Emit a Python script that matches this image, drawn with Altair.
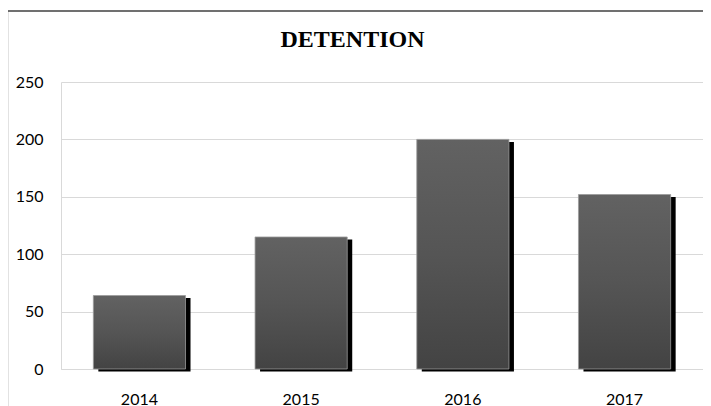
import altair as alt
import pandas as pd

TITLE = "DETENTION"
YEARS = ["2014", "2015", "2016", "2017"]
VALUES = [64, 115, 200, 152]
Y_TICKS = [0, 50, 100, 150, 200, 250]

df = pd.DataFrame({"year": YEARS, "value": VALUES})
one = pd.DataFrame({"t": [TITLE]})

W, H = 642, 287

x_enc = alt.X(
    "year:N",
    sort=YEARS,
    scale=alt.Scale(paddingInner=0.43, paddingOuter=0.2),
    axis=alt.Axis(
        title=None, labelAngle=0, ticks=False, domainColor="#d9d9d9",
        labelPadding=22, labelFont="Lato", labelFontSize=16,
        labelColor="black",
    ),
)
y_enc = alt.Y(
    "value:Q",
    scale=alt.Scale(domain=[0, 250], nice=False),
    axis=alt.Axis(
        title=None, values=Y_TICKS, grid=True, gridColor="#d9d9d9",
        domainColor="#d9d9d9", ticks=False, labelPadding=18,
        labelFont="Lato", labelFontSize=16, labelColor="black",
    ),
)

shadow = alt.Chart(df).mark_bar(
    color="black", xOffset=5, x2Offset=5, yOffset=2.5, y2Offset=2.5
).encode(x=x_enc, y=y_enc)

grad = alt.Gradient(
    gradient="linear",
    stops=[
        alt.GradientStop(color="#626262", offset=0),
        alt.GradientStop(color="#555555", offset=0.5),
        alt.GradientStop(color="#434343", offset=1),
    ],
    x1=0, x2=0, y1=0, y2=1,
)
bars = alt.Chart(df).mark_bar(
    color=grad, stroke="#9a9a9a", strokeWidth=0.8
).encode(x=x_enc, y=y_enc)

title = alt.Chart(one).mark_text(
    font="Liberation Serif", fontWeight="bold", fontSize=24,
    color="black", align="center", baseline="alphabetic",
).encode(text="t:N", x=alt.value(291.5), y=alt.value(-35))

border_left = alt.Chart(one).mark_rule(color="#404040", strokeWidth=1.3).encode(
    x=alt.value(-53.5), y=alt.value(-71), y2=alt.value(H + 60)
)
border_top = alt.Chart(one).mark_rule(color="#404040", strokeWidth=1.3).encode(
    x=alt.value(-53.5), x2=alt.value(W + 20), y=alt.value(-71)
)

chart = alt.layer(shadow, bars, title, border_left, border_top).properties(
    width=W,
    height=H,
    autosize=alt.AutoSizeParams(type="none"),
    padding={"left": 53, "top": 74, "right": 0, "bottom": 37},
    background="white",
).configure_view(stroke=None)

chart.save("out.html", embed_options={"renderer": "svg", "actions": False})
